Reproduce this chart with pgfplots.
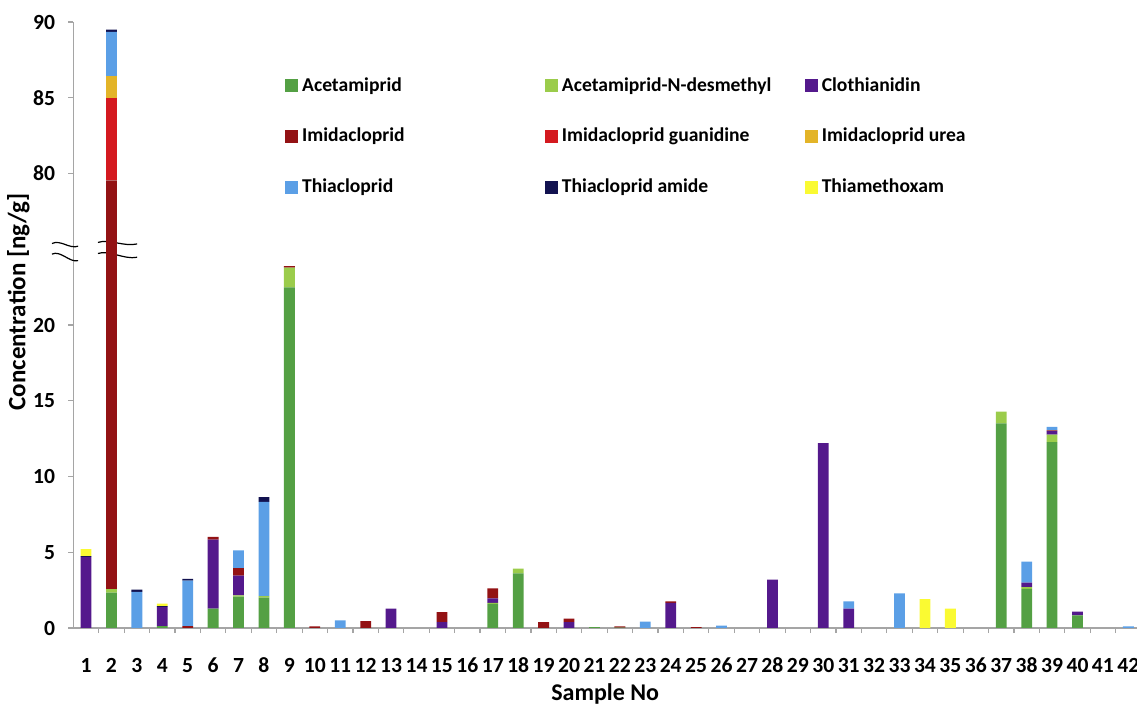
\documentclass[border=0pt]{standalone}
\usepackage{pgfplots}
\pgfplotsset{compat=1.18}
\usepackage{pgfplotstable}
\usepackage{fontspec}
\setmainfont{Carlito}

\definecolor{cAc}{RGB}{84,160,68}
\definecolor{cAcD}{RGB}{155,204,75}
\definecolor{cClo}{RGB}{84,25,140}
\definecolor{cImi}{RGB}{147,18,20}
\definecolor{cImiG}{RGB}{212,25,31}
\definecolor{cImiU}{RGB}{227,180,40}
\definecolor{cThc}{RGB}{91,159,230}
\definecolor{cThcA}{RGB}{18,18,80}
\definecolor{cThm}{RGB}{250,250,50}
\definecolor{axgray}{RGB}{165,165,165}

% Values in ng/g. The y axis is broken: values above the break are plotted 50 lower
% (sample 2, Imidacloprid 76.98 is stored as 26.98; ticks 30/35/40 read 80/85/90).
\pgfplotstableread{
x  Ac    AcD   Clo   Imi   ImiG  ImiU  Thc   ThcA  Thm
1  0     0     4.69  0     0     0     0     0.05  0.46
2  2.34  0.22  0     26.98 5.42  1.46  2.93  0.15  0
3  0     0     0     0     0     0     2.38  0.15  0
4  0.13  0     1.26  0     0     0     0     0.05  0.17
5  0     0     0     0.13  0     0     3.00  0.11  0
6  1.28  0     4.56  0.17  0     0     0     0     0
7  2.07  0.09  1.30  0.50  0     0     1.17  0     0
8  2.00  0.10  0     0     0     0     6.22  0.31  0
9  22.48 1.30  0     0.11  0     0     0     0     0
10 0     0     0     0.10  0     0     0     0     0
11 0     0     0     0     0     0     0.50  0     0
12 0     0     0     0.46  0     0     0     0     0
13 0     0     1.28  0     0     0     0     0     0
14 0     0     0     0     0     0     0     0     0
15 0     0     0.38  0.66  0     0     0     0     0
16 0     0     0     0     0     0     0     0     0
17 1.59  0.06  0.31  0.66  0     0     0     0     0
18 3.61  0.31  0     0     0     0     0     0     0
19 0     0     0     0.38  0     0     0     0     0
20 0     0     0.38  0.24  0     0     0     0     0
21 0.05  0     0     0     0     0     0     0     0
22 0.03  0     0     0.08  0     0     0     0     0
23 0     0     0     0     0     0     0.42  0     0
24 0     0     1.65  0.11  0     0     0     0     0
25 0     0     0     0.05  0     0     0     0     0
26 0     0     0     0     0     0     0.15  0     0
27 0     0     0     0     0     0     0     0     0
28 0     0     3.19  0     0     0     0     0     0
29 0     0     0     0     0     0     0     0     0
30 0     0     12.20 0     0     0     0     0     0
31 0     0     1.28  0     0     0     0.48  0     0
32 0     0     0     0     0     0     0     0     0
33 0     0     0     0     0     0     2.29  0     0
34 0     0     0     0     0     0     0     0     1.90
35 0     0     0     0     0     0     0     0     1.28
36 0     0     0     0     0     0     0     0     0
37 13.50 0.79  0     0     0     0     0     0     0
38 2.58  0.11  0.31  0     0     0     1.38  0     0
39 12.27 0.50  0.22  0.05  0     0     0.24  0     0
40 0.84  0     0.24  0     0     0     0     0     0
41 0     0     0     0     0     0     0     0     0
42 0     0     0     0     0     0     0.10  0     0
}\datatable

\begin{document}
\begin{tikzpicture}
\begin{axis}[
  at={(0,0)}, anchor=south west,
  scale only axis, width=531.85pt, height=303pt,
  ybar stacked, bar width=5.4pt,
  xmin=0.5, xmax=42.34, ymin=0, ymax=40,
  axis x line=bottom, axis y line=left,
  axis line style={axgray, line width=0.6pt, -},
  tick align=outside,
  xtick={1,...,42},
  minor xtick={1.5,2.5,...,41.5},
  major x tick style={draw=none},
  ytick={0,5,10,15,20,30,35,40},
  yticklabels={0,5,10,15,20,80,85,90},
  major tick length=2.6pt, minor tick length=2.6pt,
  tick style={axgray, line width=0.6pt},
  /pgf/number format/assume math mode=true,
  ticklabel style={font=\fontsize{10.8}{12}\selectfont\bfseries},
  xticklabel style={anchor=center, yshift=-16pt},
  yticklabel style={xshift=-3pt},
  xlabel={Sample No},
  ylabel={Concentration [ng/g]},
  every axis x label/.style={at={(axis description cs:0.5,-0.109)}, anchor=center, font=\fontsize{12}{14}\selectfont\bfseries},
  every axis y label/.style={at={(axis description cs:-0.0517,0.538)}, rotate=90, anchor=center, font=\fontsize{12.5}{14}\selectfont\bfseries},
  legend columns=3,
  legend cell align=left,
  legend style={at={(axis description cs:0.199,0.916)}, anchor=north west, draw=none, fill=none,
    font=\fontsize{9.8}{11}\selectfont\bfseries, row sep=13pt, inner sep=0pt},
  legend image code/.code={\fill[#1] (0pt,-3.2pt) rectangle (6.4pt,3.2pt);},
  clip=false,
]
\addplot[fill=cAc, draw=none] table[x=x,y=Ac]{\datatable};
\addlegendentry{\makebox[119.5pt][l]{Acetamiprid}}
\addplot[fill=cAcD, draw=none] table[x=x,y=AcD]{\datatable};
\addlegendentry{\makebox[119.5pt][l]{Acetamiprid-N-desmethyl}}
\addplot[fill=cClo, draw=none] table[x=x,y=Clo]{\datatable};
\addlegendentry{\makebox[119.5pt][l]{Clothianidin}}
\addplot[fill=cImi, draw=none] table[x=x,y=Imi]{\datatable};
\addlegendentry{Imidacloprid}
\addplot[fill=cImiG, draw=none] table[x=x,y=ImiG]{\datatable};
\addlegendentry{Imidacloprid guanidine}
\addplot[fill=cImiU, draw=none] table[x=x,y=ImiU]{\datatable};
\addlegendentry{Imidacloprid urea}
\addplot[fill=cThc, draw=none] table[x=x,y=Thc]{\datatable};
\addlegendentry{Thiacloprid}
\addplot[fill=cThcA, draw=none] table[x=x,y=ThcA]{\datatable};
\addlegendentry{Thiacloprid amide}
\addplot[fill=cThm, draw=none] table[x=x,y=Thm]{\datatable};
\addlegendentry{Thiamethoxam}

% axis break marks
\draw[black, line width=0.6pt] (axis cs:-0.34,25.38) .. controls (axis cs:0.0,25.65) and (axis cs:0.35,25.0) .. (axis cs:0.69,25.2);
\draw[black, line width=0.6pt] (axis cs:-0.34,24.68) .. controls (axis cs:0.0,24.95) and (axis cs:0.35,24.1) .. (axis cs:0.69,24.25);
\draw[black, line width=0.6pt] (axis cs:1.47,25.45) .. controls (axis cs:1.9,25.7) and (axis cs:2.5,25.15) .. (axis cs:3.01,25.35);
\draw[black, line width=0.6pt] (axis cs:1.47,24.72) .. controls (axis cs:1.9,24.97) and (axis cs:2.5,24.3) .. (axis cs:3.01,24.47);
\end{axis}
\pgfresetboundingbox
\useasboundingbox (-36.65pt,-39pt) rectangle (531.85pt,314pt);
\end{tikzpicture}
\end{document}
